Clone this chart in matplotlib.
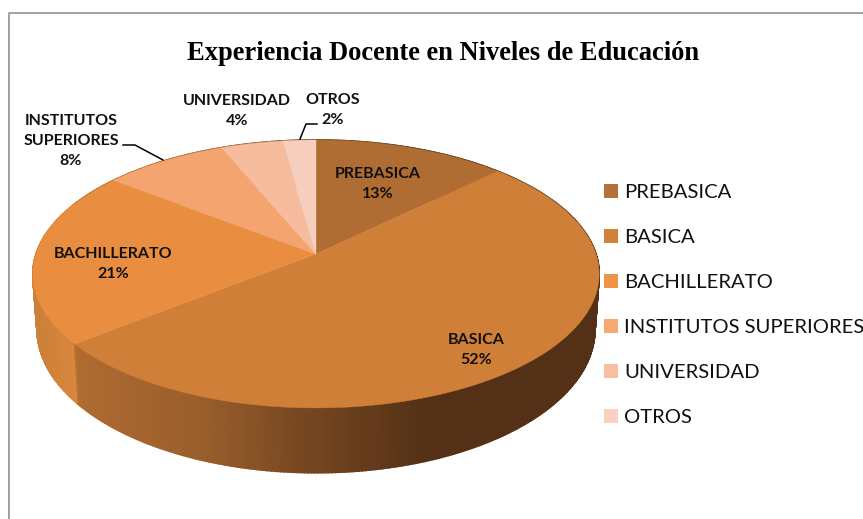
import numpy as np
import matplotlib
matplotlib.use('Agg')
import matplotlib.pyplot as plt

categories = ['PREBASICA', 'BASICA', 'BACHILLERATO', 'INSTITUTOS SUPERIORES', 'UNIVERSIDAD', 'OTROS']
values = [12.7, 51.6, 21.2, 8.2, 4.1, 2.2]
top_colors = ['#B06D33', '#D07F38', '#E98D40', '#F4A56F', '#F6BC9D', '#F5CEBD']
legend_colors = ['#B4713A', '#D18239', '#EE9447', '#F6A971', '#F7BFA1', '#F8D2C0']

cx, cy = 316, 254   # apex of the pie in pixels
a, b, k = 280, 131, 0.149   # perspective of the disc


def rim(theta):
    u, v = np.sin(theta), np.cos(theta)
    d = 1 + k * v
    return a * u / d, b * v / d


def wall_color(x):
    # side of the pie gets darker to the right
    stops = [33, 73, 74, 200, 300, 430, 600]
    rgb = [(0.80, 0.50, 0.22), (0.85, 0.53, 0.24), (0.69, 0.42, 0.19), (0.60, 0.37, 0.17),
           (0.47, 0.28, 0.13), (0.325, 0.19, 0.085), (0.325, 0.19, 0.085)]
    return [np.interp(x, stops, [c[i] for c in rgb]) for i in range(3)]


fig = plt.figure(figsize=(8.63, 5.19), dpi=100)
ax = fig.add_axes([0, 0, 1, 1])
ax.set_xlim(0, 863)
ax.set_ylim(519, 0)
ax.axis('off')

# frame, cut by the right and bottom edges of the picture
ax.plot([9, 9, 863], [519, 13, 13], color='#9A9A9A', lw=1.3)

edges = np.cumsum([0] + values) / sum(values) * 2 * np.pi

# side wall as thin strips
for i in range(len(values)):
    t = np.linspace(edges[i], edges[i + 1], max(int(values[i] * 6), 2))
    for t0, t1 in zip(t[:-1], t[1:]):
        x0, y0 = rim(t0)
        x1, y1 = rim(t1)
        xs = [cx + x0, cx + x1, cx + 0.985 * x1, cx + 0.985 * x0]
        ys = [cy - y0, cy - y1, cy + 54 - 1.07 * y1, cy + 54 - 1.07 * y0]
        col = wall_color((xs[0] + xs[1]) / 2)
        ax.fill(xs, ys, color=col, lw=1.2, zorder=2)

# top of the pie
handles = []
for i in range(len(values)):
    t = np.linspace(edges[i], edges[i + 1], 120)
    x, y = rim(t)
    ax.fill(np.r_[cx, cx + x], np.r_[cy, cy - y], color=top_colors[i], lw=0.3, zorder=3)
    h = ax.fill([], [], color=legend_colors[i], lw=0, label=categories[i])
    handles.append(h[0])

label_font = dict(family='Lato', fontweight='bold', fontsize=11.5, color='#111111',
                  ha='center', va='center', zorder=5, linespacing=1.58)
pct = [f'{round(v)}%' for v in values]
ax.text(378, 184, f'PREBASICA\n{pct[0]}', **label_font)
ax.text(476, 350, f'BASICA\n{pct[1]}', **label_font)
ax.text(113, 264, f'BACHILLERATO\n{pct[2]}', **label_font)
ax.text(71, 141, f'INSTITUTOS\nSUPERIORES\n{pct[3]}', **label_font)
ax.text(237, 111, f'UNIVERSIDAD\n{pct[4]}', **label_font)
ax.text(333, 110, f'OTROS\n{pct[5]}', **label_font)

# leader lines
ax.plot([123, 135, 163], [145, 145, 160], color='black', lw=1.1, zorder=5)
ax.plot([317, 306, 300], [124, 124, 139], color='black', lw=1.1, zorder=5)

ax.text(443, 53, 'Experiencia Docente en Niveles de Educación', family='Liberation Serif',
        fontweight='bold', fontsize=19.1, ha='center', va='center', color='black')

fs = 14.6
ax.legend(handles=handles, loc='upper left', bbox_to_anchor=(604 / 863, 1 - 184 / 519), frameon=False,
          prop={'family': 'Lato', 'size': fs}, handlelength=0.69, handleheight=0.69,
          handletextpad=0.3, labelspacing=1.37, borderpad=0, borderaxespad=0, labelcolor='#111111')

plt.savefig('out.png', dpi=100)
